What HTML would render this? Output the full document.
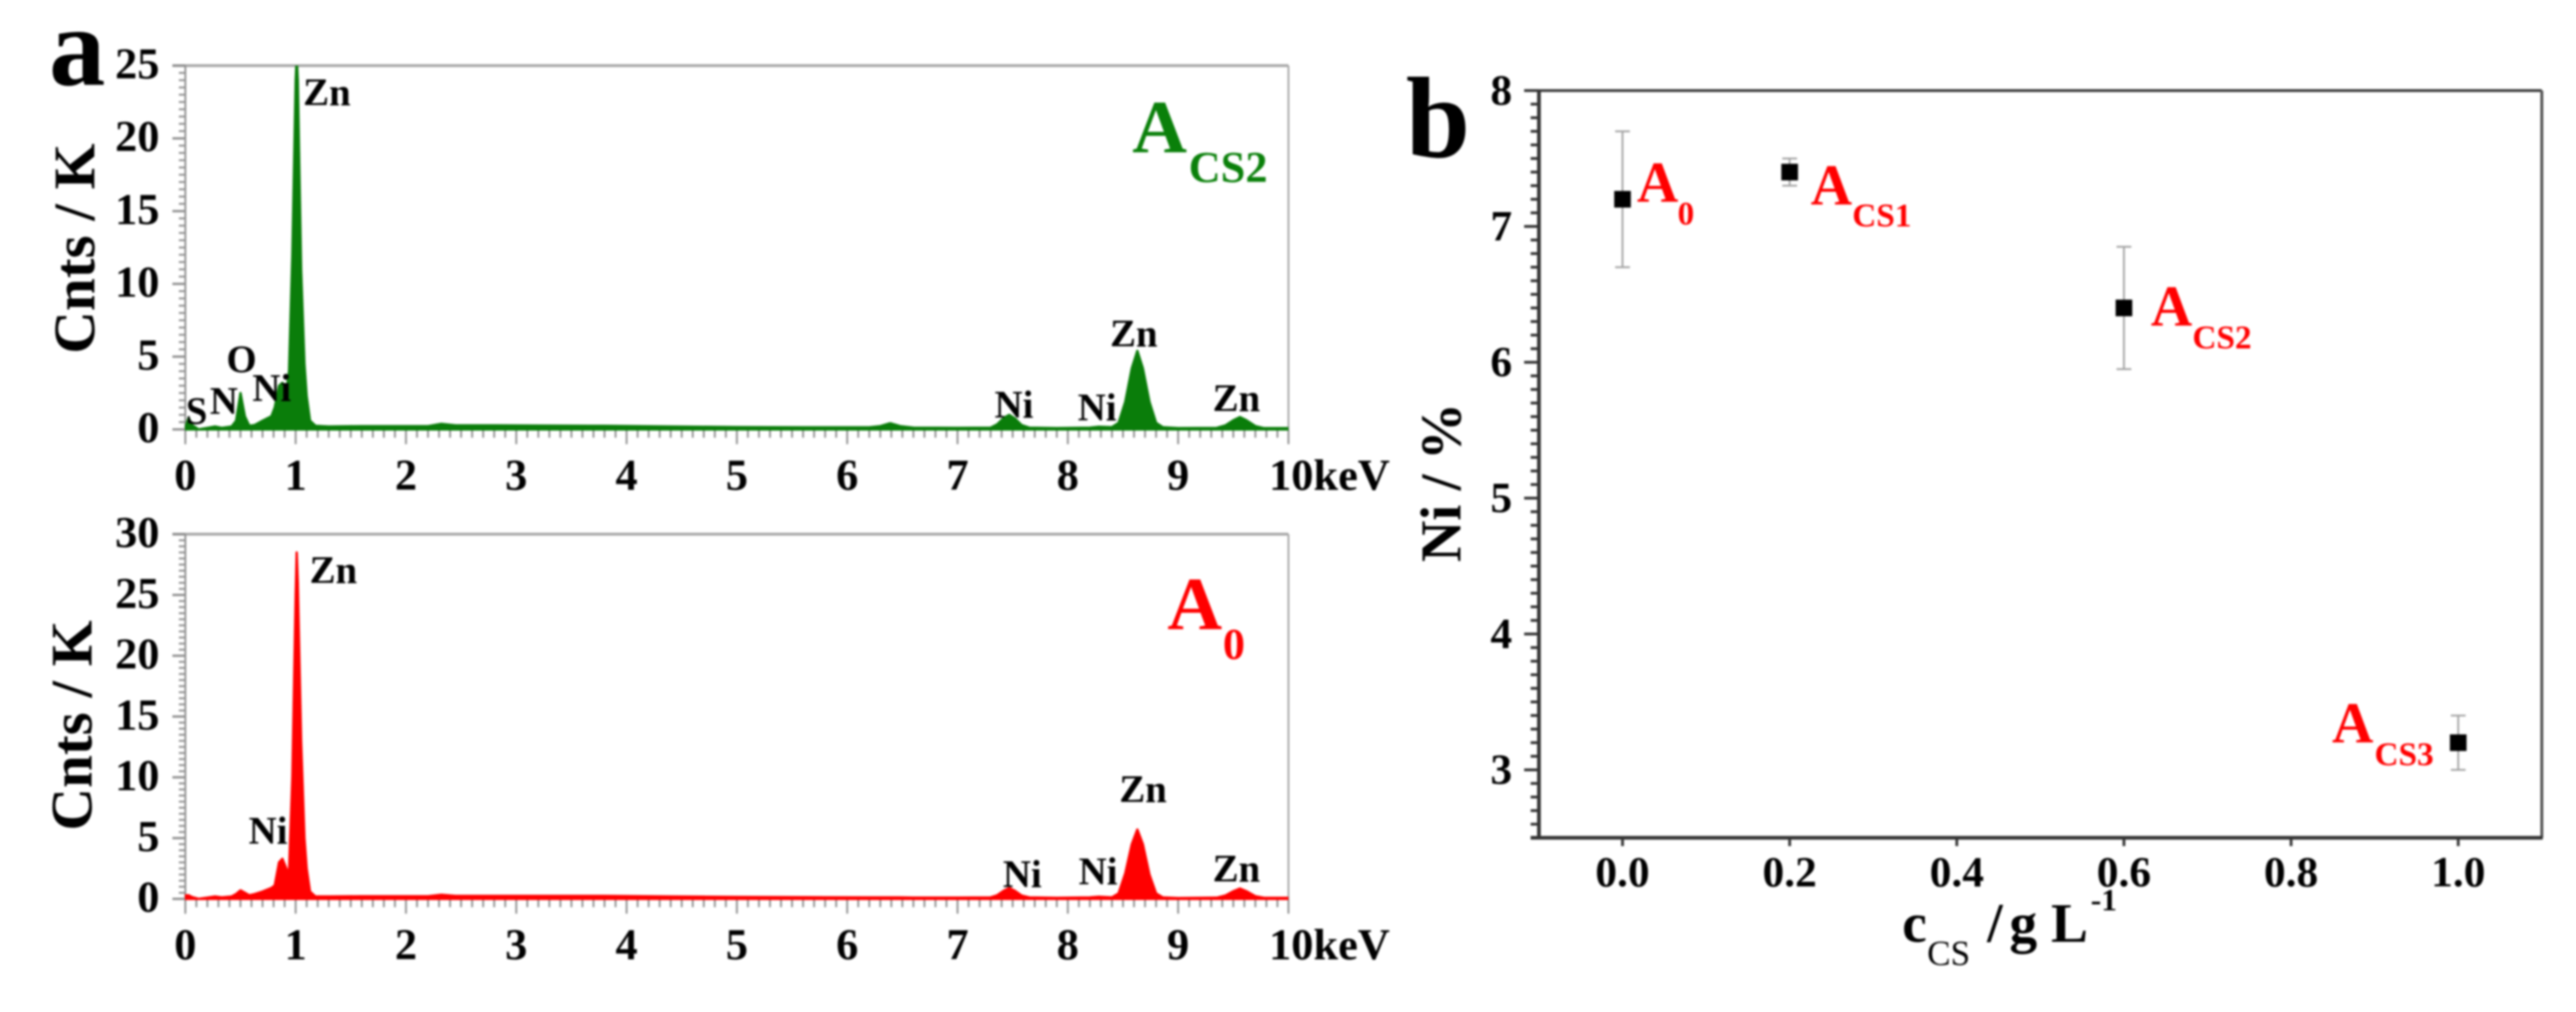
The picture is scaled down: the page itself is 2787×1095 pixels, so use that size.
<!DOCTYPE html>
<html lang="en">
<head>
<meta charset="utf-8">
<title>EDS spectra and Ni content</title>
<style>
html,body{margin:0;padding:0;background:#fff;width:2787px;height:1095px;overflow:hidden}
svg{display:block;filter:blur(1.1px)}
text{font-family:"Liberation Serif","Times New Roman",serif;font-weight:bold;fill:#000}
.tick{font-size:48px}
.anno{font-size:42px}
.yt{font-size:64px}
</style>
</head>
<body>
<svg id="fig" xmlns="http://www.w3.org/2000/svg" width="2787" height="1095" viewBox="0 0 2787 1095">
  <defs>
    <clipPath id="clip-top"><rect x="200" y="71" width="1194" height="400"/></clipPath>
    <clipPath id="clip-bottom"><rect x="200" y="578" width="1194" height="400"/></clipPath>
  </defs>
  <rect x="0" y="0" width="2787" height="1095" fill="#fff"/>

  <text x="53" y="92" font-size="122">a</text>
  <text x="1521" y="170" font-size="125">b</text>

  <g id="panel-top"></g>
  <g id="panel-bottom"></g>
  <g id="panel-b"></g>

  <text class="yt" transform="translate(102 269) rotate(-90)" text-anchor="middle">Cnts / K</text>
  <text class="yt" transform="translate(99 785) rotate(-90)" text-anchor="middle">Cnts / K</text>
  <text font-size="62" transform="translate(1580 522) rotate(-90)" text-anchor="middle">Ni / %</text>

  <g>
    <text class="anno" x="328" y="114">Zn</text>
    <text class="anno" x="245" y="403">O</text>
    <text class="anno" x="273" y="434">Ni</text>
    <text class="anno" x="201" y="459">S</text>
    <text class="anno" x="227" y="448">N</text>
    <text class="anno" x="1201" y="375">Zn</text>
    <text class="anno" x="1076" y="452">Ni</text>
    <text class="anno" x="1166" y="455">Ni</text>
    <text class="anno" x="1312" y="445">Zn</text>
  </g>
  <g>
    <text class="anno" x="335" y="631">Zn</text>
    <text class="anno" x="269" y="913">Ni</text>
    <text class="anno" x="1211" y="868">Zn</text>
    <text class="anno" x="1085" y="960">Ni</text>
    <text class="anno" x="1167" y="957">Ni</text>
    <text class="anno" x="1312" y="954">Zn</text>
  </g>

  <g>
    <text x="1225" y="165" font-size="82" style="fill:#0a800a">A</text>
    <text x="1286" y="197" font-size="48" style="fill:#0a800a">CS2</text>
  </g>
  <g>
    <text x="1263" y="681" font-size="82" style="fill:#ff0000">A</text>
    <text x="1323" y="713" font-size="48" style="fill:#ff0000">0</text>
  </g>

  <g>
    <text x="1771" y="218" font-size="62" style="fill:#ff0000">A</text>
    <text x="1815" y="243" font-size="36" style="fill:#ff0000">0</text>
  </g>
  <g>
    <text x="1959" y="221" font-size="62" style="fill:#ff0000">A</text>
    <text x="2004" y="245" font-size="36" style="fill:#ff0000">CS1</text>
  </g>
  <g>
    <text x="2327" y="352" font-size="62" style="fill:#ff0000">A</text>
    <text x="2372" y="377" font-size="36" style="fill:#ff0000">CS2</text>
  </g>
  <g>
    <text x="2523" y="803" font-size="62" style="fill:#ff0000">A</text>
    <text x="2569" y="828" font-size="36" style="fill:#ff0000">CS3</text>
  </g>

  <g>
    <text x="2058" y="1019" font-size="60">c</text>
    <text x="2085" y="1044" font-size="38" style="font-weight:normal">CS</text>
    <text x="2150" y="1019" font-size="60">/</text>
    <text x="2174" y="1019" font-size="60">g L</text>
    <text x="2262" y="985" font-size="34">-1</text>
  </g>
</svg>

<script>
// Spectrum data
const energyKeV = [0,0.03,0.06,0.12,0.2,0.27,0.33,0.42,0.46,0.5,0.54,0.58,0.63,0.7,0.78,0.81,0.85,0.88,0.92,0.94,0.97,1.0,1.01,1.02,1.05,1.08,1.1,1.13,1.18,1.3,1.6,2.0,2.2,2.32,2.45,2.8,3.2,3.8,4.4,5.0,5.6,6.2,6.3,6.39,6.48,6.6,7.0,7.3,7.36,7.42,7.47,7.52,7.58,7.65,7.9,8.2,8.28,8.4,8.46,8.52,8.58,8.63,8.68,8.74,8.8,8.86,9.0,9.35,9.43,9.5,9.56,9.62,9.7,9.78,10];
const countsACS2 = [0.1,0.8,0.3,0,0.1,0.2,0.1,0.2,0.6,2.5,0.9,0.25,0.3,0.6,0.9,1.5,3.0,3.2,2.8,4,12,24,25.6,24,11,4.5,2.3,0.6,0.25,0.2,0.22,0.22,0.22,0.38,0.28,0.28,0.26,0.24,0.2,0.16,0.14,0.14,0.22,0.42,0.22,0.12,0.1,0.12,0.35,0.8,1.0,0.75,0.3,0.12,0.08,0.12,0.18,0.15,0.45,1.9,4.2,5.4,4.2,1.9,0.45,0.15,0.08,0.1,0.28,0.62,0.85,0.62,0.22,0.08,0.08];
const countsA0 = [0.3,0.3,0.15,0,0.1,0.2,0.12,0.2,0.4,0.7,0.5,0.3,0.4,0.6,0.9,1.1,3.0,3.3,2.4,2.2,10,25,28.5,26,13,5,2.5,0.6,0.2,0.2,0.22,0.22,0.22,0.34,0.24,0.24,0.24,0.24,0.2,0.16,0.14,0.12,0.12,0.12,0.12,0.1,0.1,0.12,0.3,0.68,0.9,0.66,0.28,0.12,0.08,0.12,0.18,0.12,0.45,2.1,4.5,5.7,4.5,2,0.45,0.12,0.06,0.1,0.28,0.62,0.85,0.62,0.22,0.08,0.08];
const spectrumXTicks = [0,1,2,3,4,5,6,7,8,9,10];
const spectrumXLabels = ["0","1","2","3","4","5","6","7","8","9","10keV"];
const topYTicks = [0,5,10,15,20,25];
const bottomYTicks = [0,5,10,15,20,25,30];

// Ni content data
const csConcentration = [0,0.2,0.6,1.0];
const niPercent = [7.2,7.4,6.4,3.2];
const niError = [0.5,0.1,0.45,0.2];
const niXTicks = [0,0.2,0.4,0.6,0.8,1.0];
const niXLabels = ["0.0","0.2","0.4","0.6","0.8","1.0"];
const niYTicks = [3,4,5,6,7,8];

const NS = 'http://www.w3.org/2000/svg';
function mk(parent, tag, attrs, txt) {
  const el = document.createElementNS(NS, tag);
  for (const k in attrs) el.setAttribute(k, attrs[k]);
  if (txt !== undefined) el.textContent = txt;
  parent.appendChild(el);
  return el;
}
function seg(parent, x1, y1, x2, y2, color, w) {
  return mk(parent, 'line', {x1: x1, y1: y1, x2: x2, y2: y2, stroke: color, 'stroke-width': w});
}

function drawSpectrum(root, cfg, counts, yTicks, yMax) {
  const xS = e => cfg.left + (e / 10) * (cfg.right - cfg.left);
  const yS = c => cfg.y0 - (c / yMax) * (cfg.y0 - cfg.top);
  const gray = '#8f8f8f';

  // frame
  const frame = seg(root, cfg.left - 14, cfg.top, cfg.right, cfg.top, '#a6a6a6', 3);
  
  
  const frameR = seg(root, cfg.right, cfg.top, cfg.right, cfg.y0, '#a6a6a6', 2);
  
  
  const yAxis = seg(root, cfg.left, cfg.top, cfg.left, cfg.y0 + 16, gray, 2);
  
  

  // y ticks
  const yAxisG = mk(root, 'g', {});
  
  
  for (let v = 0; v <= yMax + 0.001; v += 0.5) {
    const isMajor = Math.abs(v / 5 - Math.round(v / 5)) < 1e-6;
    seg(yAxisG, isMajor ? cfg.left - 14 : cfg.left - 7, yS(v), cfg.left, yS(v), gray, isMajor ? 2.5 : 2);
  }
  yTicks.forEach(v => {
    const t = mk(yAxisG, 'text', {class: 'tick', x: cfg.left - 28, y: yS(v) + 14, 'text-anchor': 'end'}, String(v));
    
    
  });

  // x ticks
  const xAxisG = mk(root, 'g', {});
  
  
  for (let i = 0; i <= 100; i++) {
    const e = i / 10;
    const isMajor = i % 10 === 0;
    seg(xAxisG, xS(e), cfg.y0, xS(e), cfg.y0 + (isMajor ? 16 : 9), gray, 2);
  }
  spectrumXTicks.forEach((e, i) => {
    const isLast = i === spectrumXTicks.length - 1;
    const t = mk(xAxisG, 'text', {class: 'tick', x: isLast ? xS(e) - 21 : xS(e), y: cfg.labelY, 'text-anchor': isLast ? 'start' : 'middle'}, spectrumXLabels[i]);
    
    
  });

  // series
  let d = 'M' + xS(energyKeV[0]).toFixed(1) + ' ' + yS(0).toFixed(1);
  energyKeV.forEach((e, i) => { d += ' L' + xS(e).toFixed(1) + ' ' + yS(counts[i]).toFixed(1); });
  d += ' L' + xS(energyKeV[energyKeV.length - 1]).toFixed(1) + ' ' + yS(0).toFixed(1) + ' Z';
  const area = mk(root, 'path', {d: d, fill: cfg.color, stroke: cfg.color, 'stroke-width': 2.5, 'stroke-linejoin': 'round', 'clip-path': 'url(#' + cfg.clip + ')'});
  
  
}

drawSpectrum(document.getElementById('panel-top'),
  {left: 200.5, right: 1394, top: 71, y0: 464.6, labelY: 530, color: '#0a7d0a', clip: 'clip-top'},
  countsACS2, topYTicks, 25);
drawSpectrum(document.getElementById('panel-bottom'),
  {left: 200.5, right: 1394, top: 578, y0: 972.6, labelY: 1038, color: '#ff0000', clip: 'clip-bottom'},
  countsA0, bottomYTicks, 30);

// Panel b
(function () {
  const root = document.getElementById('panel-b');
  const L = 1665, R = 2750, T = 98, B = 906.5;
  const xS = v => L + (v + 0.1) / 1.2 * (R - L);
  const yS = v => B - (v - 2.5) / 5.5 * (B - T);
  const dark = '#333';

  const top = seg(root, L - 16, T, R, T, '#3a3a3a', 3);
  
  
  const right = seg(root, R, T, R, B, '#4a4a4a', 3);
  
  
  const left = seg(root, L, T, L, B, dark, 4);
  
  
  const bottom = seg(root, L - 9, B, R + 1, B, dark, 4);
  
  

  const yAxisG = mk(root, 'g', {});
  
  
  for (let i = 25; i <= 80; i++) {
    const v = i / 10;
    const isMajor = i % 10 === 0;
    seg(yAxisG, isMajor ? L - 16 : L - 9, yS(v), L, yS(v), dark, 3);
  }
  niYTicks.forEach(v => {
    const t = mk(yAxisG, 'text', {x: 1636, y: yS(v) + 15, 'text-anchor': 'end', 'font-size': 47}, String(v));
    
    
  });

  const xAxisG = mk(root, 'g', {});
  
  
  niXTicks.forEach((v, i) => {
    seg(xAxisG, xS(v), B, xS(v), B + 9, dark, 3);
    const t = mk(xAxisG, 'text', {x: xS(v), y: 959, 'text-anchor': 'middle', 'font-size': 47}, niXLabels[i]);
    
    
  });

  csConcentration.forEach((c, i) => {
    const g = mk(root, 'g', {});
    
    
    const hi = yS(niPercent[i] + niError[i]);
    const lo = yS(niPercent[i] - niError[i]);
    const px = xS(c);
    seg(g, px, hi, px, lo, '#a3a3a3', 2);
    seg(g, px - 8, hi, px + 8, hi, '#a3a3a3', 2);
    seg(g, px - 8, lo, px + 8, lo, '#a3a3a3', 2);
    mk(g, 'rect', {x: px - 9, y: yS(niPercent[i]) - 9, width: 18, height: 18, fill: '#000'});
  });
})();
</script>
</body>
</html>
